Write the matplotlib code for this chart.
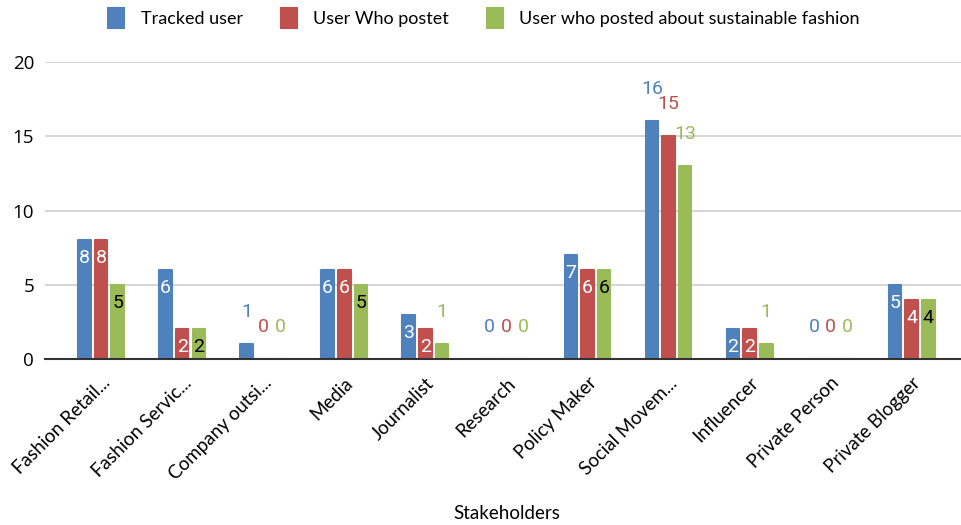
import matplotlib
matplotlib.use("Agg")
import matplotlib.pyplot as plt
import numpy as np

categories = ["Fashion Retail...", "Fashion Servic...", "Company outsi...", "Media", "Journalist",
              "Research", "Policy Maker", "Social Movem...", "Influencer", "Private Person", "Private Blogger"]
series_names = ["Tracked user", "User Who postet", "User who posted about sustainable fashion"]
tracked = [8, 6, 1, 6, 3, 0, 7, 16, 2, 0, 5]
posted = [8, 2, 0, 6, 2, 0, 6, 15, 2, 0, 4]
sustainable = [5, 2, 0, 5, 1, 0, 6, 13, 1, 0, 4]
y_ticks = [0, 5, 10, 15, 20]

colors = ["#4F81BD", "#C0504D", "#9BBB59"]
inside_text = ["white", "white", "black"]

fig = plt.figure(figsize=(9.62, 5.25), dpi=100)
ax = fig.add_axes([0.047, 0.316, 0.953, 0.566])

x = np.arange(len(categories))
width = 0.155
offsets = [-0.205, 0, 0.205]
label_font = ["Roboto", "DejaVu Sans"]

for i, vals in enumerate([tracked, posted, sustainable]):
    bars = ax.bar(x + offsets[i], vals, width, color=colors[i], edgecolor=colors[i],
                  linewidth=1.5, joinstyle="round", zorder=3, label=series_names[i])
    for b, v in zip(bars, vals):
        cx = b.get_x() + b.get_width() / 2
        if 2 <= v <= 10:
            ax.annotate(str(v), (cx, v), xytext=(0, -13), textcoords="offset points",
                        ha="center", va="center", fontsize=14, color=inside_text[i],
                        family=label_font, zorder=4)
        else:
            ax.annotate(str(v), (cx, v), xytext=(0, 23), textcoords="offset points",
                        ha="center", va="center", fontsize=14, color=colors[i],
                        family=label_font, zorder=4, annotation_clip=False)

ax.set_xlim(-0.69, 10.62)
ax.set_ylim(0, 20)
ax.set_yticks(y_ticks)
ax.set_yticklabels([str(t) for t in y_ticks], fontsize=13.5, family=["Open Sans", "DejaVu Sans"])
ax.yaxis.grid(True, color="#D0D0D0", linewidth=1.2, zorder=0)
ax.tick_params(axis="y", length=0, pad=8)
ax.tick_params(axis="x", length=0, pad=11)
ax.set_xticks(x)
ax.set_xticklabels(categories, rotation=45, ha="right", rotation_mode="anchor",
                   fontsize=13.5, family=["Lato", "DejaVu Sans"])
for s in ["top", "right", "left"]:
    ax.spines[s].set_visible(False)
ax.spines["bottom"].set_color("#333333")
ax.spines["bottom"].set_linewidth(1.5)
ax.spines["bottom"].set_zorder(5)

ax.set_xlabel("Stakeholders", fontsize=13.5, family=["Lato", "DejaVu Sans"], labelpad=0)
ax.xaxis.set_label_coords(0.503, -0.49)

handles, labels = ax.get_legend_handles_labels()
leg = fig.legend(handles, labels, loc="upper center", bbox_to_anchor=(0.503, 1.015), ncol=3,
                 frameon=False, prop={"family": ["Lato", "DejaVu Sans"], "size": 13},
                 handlelength=0.9, handleheight=1.3, columnspacing=2.1, handletextpad=0.9)

fig.savefig("out.png", dpi=100)
